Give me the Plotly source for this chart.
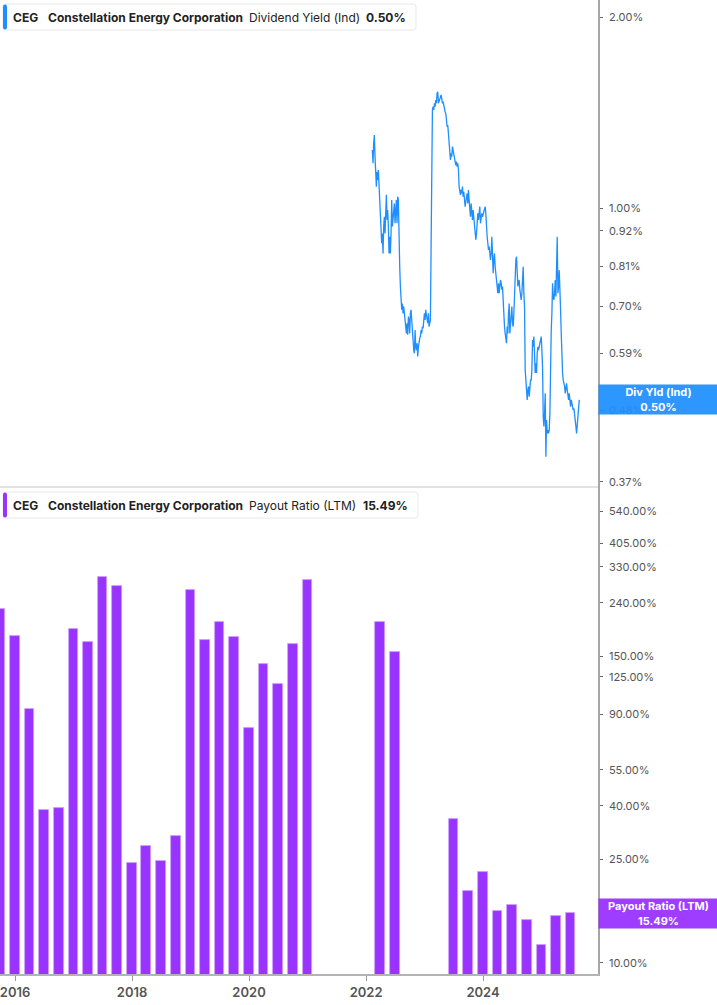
import numpy as np
import pandas as pd
import plotly.graph_objects as go

# dividend yield (Ind), in %: CEG listed early Feb 2022
yield_start = "2022-02-09"
yield_end = "2025-08-24"
yield_pct = [
    1.235, 1.177, 1.265, 1.304, 1.205, 1.121, 1.081, 1.141, 1.107, 1.148, 1.094, 0.999, 0.969, 0.923, 0.880,
    0.912, 0.848, 0.935, 0.969, 0.912, 0.958, 1.049, 0.958, 0.993, 0.935, 0.848, 0.901, 0.848, 0.912, 1.030,
    0.935, 0.969, 0.981, 1.017, 0.946, 1.005, 1.030, 0.946, 1.042, 1.030, 0.859, 0.808, 0.752, 0.699, 0.691,
    0.707, 0.682, 0.699, 0.686, 0.674, 0.650, 0.634, 0.658, 0.631, 0.674, 0.666, 0.634, 0.682, 0.691, 0.666,
    0.634, 0.634, 0.597, 0.590, 0.642, 0.604, 0.597, 0.612, 0.583, 0.604, 0.619, 0.623, 0.627, 0.642, 0.634,
    0.650, 0.646, 0.666, 0.682, 0.666, 0.691, 0.678, 0.670, 0.658, 0.682, 0.650, 0.658, 0.666, 0.869, 1.328,
    1.428, 1.445, 1.428, 1.463, 1.445, 1.481, 1.463, 1.517, 1.526, 1.463, 1.472, 1.481, 1.499, 1.508, 1.490,
    1.463, 1.472, 1.445, 1.428, 1.419, 1.411, 1.377, 1.344, 1.352, 1.312, 1.280, 1.250, 1.191, 1.220, 1.205,
    1.250, 1.235, 1.227, 1.205, 1.184, 1.169, 1.184, 1.162, 1.177, 1.148, 1.081, 1.068, 1.049, 1.068, 1.055,
    1.081, 1.042, 1.061, 1.030, 1.005, 1.024, 1.042, 1.055, 1.017, 1.068, 1.030, 1.005, 0.969, 1.017, 0.981,
    0.958, 0.993, 0.958, 0.923, 0.901, 0.891, 0.912, 0.935, 0.981, 0.958, 0.993, 1.005, 0.946, 0.969, 0.981,
    0.969, 0.981, 0.993, 1.005, 1.005, 0.981, 0.923, 0.901, 0.880, 0.859, 0.869, 0.848, 0.828, 0.848, 0.901,
    0.848, 0.789, 0.828, 0.848, 0.808, 0.779, 0.761, 0.752, 0.734, 0.761, 0.734, 0.752, 0.770, 0.761, 0.743,
    0.752, 0.699, 0.658, 0.650, 0.634, 0.619, 0.612, 0.650, 0.634, 0.682, 0.707, 0.634, 0.650, 0.674, 0.699,
    0.658, 0.650, 0.682, 0.752, 0.808, 0.828, 0.838, 0.798, 0.752, 0.761, 0.770, 0.743, 0.725, 0.716, 0.734,
    0.770, 0.808, 0.734, 0.699, 0.555, 0.535, 0.529, 0.498, 0.516, 0.523, 0.504, 0.529, 0.535, 0.535, 0.555,
    0.619, 0.604, 0.627, 0.590, 0.549, 0.569, 0.549, 0.590, 0.604, 0.597, 0.612, 0.612, 0.619, 0.627, 0.597,
    0.562, 0.469, 0.452, 0.474, 0.510, 0.405, 0.463, 0.441, 0.446, 0.441, 0.446, 0.474, 0.583, 0.642, 0.682,
    0.761, 0.725, 0.716, 0.734, 0.770, 0.725, 0.808, 0.901, 0.734, 0.752, 0.798, 0.699, 0.691, 0.634, 0.576,
    0.549, 0.535, 0.529, 0.523, 0.510, 0.516, 0.529, 0.516, 0.504, 0.498, 0.510, 0.492, 0.486, 0.498, 0.492,
    0.486, 0.480, 0.483, 0.474, 0.469, 0.452, 0.441, 0.457, 0.469, 0.486, 0.498,
]

# payout ratio (LTM), in %, one bar per fiscal quarter end
payout_dates = [
    "2015-09-30", "2015-12-31",
    "2016-03-31", "2016-06-30", "2016-09-30", "2016-12-31",
    "2017-03-31", "2017-06-30", "2017-09-30", "2017-12-31",
    "2018-03-31", "2018-06-30", "2018-09-30", "2018-12-31",
    "2019-03-31", "2019-06-30", "2019-09-30", "2019-12-31",
    "2020-03-31", "2020-06-30", "2020-09-30", "2020-12-31",
    "2022-03-31", "2022-06-30",
    "2023-06-30", "2023-09-30", "2023-12-31",
    "2024-03-31", "2024-06-30", "2024-09-30", "2024-12-31",
    "2025-03-31", "2025-06-30",
]
payout_pct = [
    227, 179,
    94, 38.6, 39.3, 190.6,
    170, 302, 279, 24.2,
    28.1, 24.6, 30.7, 269,
    173, 203, 178, 79.6,
    140, 117, 167, 294,
    203, 156,
    35.6, 18.9, 22.3,
    15.8, 16.7, 14.6, 11.7,
    15.1, 15.49,
]

yield_ticks = [2.00, 1.00, 0.92, 0.81, 0.70, 0.59, 0.48, 0.37]
payout_ticks = [540, 405, 330, 240, 150, 125, 90, 55, 40, 25, 10]
year_ticks = ["2016-01-01", "2018-01-01", "2020-01-01", "2022-01-01", "2024-01-01"]

BLUE = "#1f8fff"
PURPLE = "#9933ff"
TXT = "#222222"
AXIS = "#555555"
FONT = "Inter"

W, H = 717, 1005
PW, PH = 598, 974   # plot area in px (l=0, t=0)


def px(x):
    return x / PW


def py(y):
    return (PH - y) / PH


def rrect(x0, y0, x1, y1, r):
    return (f"M {px(x0 + r)},{py(y0)} L {px(x1 - r)},{py(y0)} "
            f"Q {px(x1)},{py(y0)} {px(x1)},{py(y0 + r)} L {px(x1)},{py(y1 - r)} "
            f"Q {px(x1)},{py(y1)} {px(x1 - r)},{py(y1)} L {px(x0 + r)},{py(y1)} "
            f"Q {px(x0)},{py(y1)} {px(x0)},{py(y1 - r)} L {px(x0)},{py(y0 + r)} "
            f"Q {px(x0)},{py(y0)} {px(x0 + r)},{py(y0)} Z")


yield_dates = pd.date_range(yield_start, yield_end, periods=len(yield_pct))

fig = go.Figure()
fig.add_trace(go.Scatter(
    x=yield_dates, y=yield_pct, mode="lines",
    line=dict(color=BLUE, width=1.3),
    xaxis="x2", yaxis="y2", hoverinfo="skip",
))
fig.add_trace(go.Bar(
    x=pd.to_datetime(payout_dates), y=payout_pct,
    width=61 * 86400000,
    marker=dict(color=PURPLE, line=dict(color="#c9a0ff", width=0.8)),
    xaxis="x", yaxis="y", hoverinfo="skip",
))

xr = ["2015-09-29", "2025-12-19"]
tickfont = dict(family=FONT, size=11, color=AXIS)

fig.update_layout(
    width=W, height=H,
    margin=dict(l=0, r=W - PW, t=0, b=H - PH),
    paper_bgcolor="white", plot_bgcolor="white",
    showlegend=False,
    bargap=0,
    xaxis=dict(
        range=xr, type="date", anchor="y",
        tickvals=year_ticks, tickformat="%Y",
        tickfont=dict(family=FONT, size=13, color=AXIS, weight=600),
        ticklabeloverflow="allow",
        ticks="outside", ticklen=5, tickcolor="#999999", tickwidth=1,
        showline=True, linecolor="#b3b3b3", linewidth=2,
        showgrid=False, zeroline=False,
    ),
    xaxis2=dict(
        range=xr, type="date", anchor="y2", matches="x",
        showticklabels=False, showgrid=False, zeroline=False, showline=False,
    ),
    yaxis=dict(
        domain=[0, 0.5], type="log", side="right", anchor="x",
        range=[0.9578, 2.8245],
        tickvals=payout_ticks, ticktext=[f"{v:.2f}%" for v in payout_ticks],
        tickfont=tickfont, ticks="outside", ticklen=3, tickcolor="#666666",
        ticklabelstandoff=4,
        showline=True, linecolor="#a6a6a6", linewidth=1.5,
        showgrid=False, zeroline=False,
    ),
    yaxis2=dict(
        domain=[0.5, 1], type="log", side="right", anchor="x2",
        range=[-0.4402, 0.3283],
        tickvals=yield_ticks, ticktext=[f"{v:.2f}%" for v in yield_ticks],
        tickfont=tickfont, ticks="outside", ticklen=3, tickcolor="#666666",
        ticklabelstandoff=4,
        showline=True, linecolor="#a6a6a6", linewidth=1.5,
        showgrid=False, zeroline=False,
    ),
)

shapes = [
    dict(type="line", xref="paper", yref="paper", x0=0, x1=1, y0=py(487), y1=py(487),
         line=dict(color="#e2e2e2", width=2)),
    dict(type="path", xref="paper", yref="paper", path=rrect(3, 4, 416, 30, 3),
         fillcolor="white", line=dict(color="#e8e8e8", width=1)),
    dict(type="path", xref="paper", yref="paper", path=rrect(3, 4.5, 7, 29.5, 2),
         fillcolor=BLUE, line=dict(width=0)),
    dict(type="path", xref="paper", yref="paper", path=rrect(3, 492, 418, 518, 3),
         fillcolor="white", line=dict(color="#e8e8e8", width=1)),
    dict(type="path", xref="paper", yref="paper", path=rrect(3, 492.5, 7, 517.5, 2),
         fillcolor=PURPLE, line=dict(width=0)),
]
fig.update_layout(shapes=shapes)


def label(x, y, text):
    fig.add_annotation(xref="paper", yref="paper", x=px(x), y=py(y), text=text,
                       showarrow=False, xanchor="left", yanchor="middle",
                       font=dict(family=FONT, size=12, color=TXT))


label(11, 17, "<b>CEG</b>")
label(46, 17, "<b>Constellation Energy Corporation</b>")
label(247, 17, "Dividend Yield (Ind)")
label(364, 17, f"<b>{yield_pct[-1]:.2f}%</b>")

label(11, 505, "<b>CEG</b>")
label(46, 505, "<b>Constellation Energy Corporation</b>")
label(247, 505, "Payout Ratio (LTM)")
label(361, 505, f"<b>{payout_pct[-1]:.2f}%</b>")

# last-value flags on the right axis
fig.add_annotation(xref="paper", yref="y2", x=1, y=np.log10(yield_pct[-1]),
                   text=f"<b>Div Yld (Ind)</b><br><b>{yield_pct[-1]:.2f}%</b>",
                   showarrow=False, xanchor="left", yanchor="middle",
                   width=117, height=27, borderpad=1, align="center",
                   bgcolor=BLUE, opacity=0.93,
                   font=dict(family=FONT, size=11, color="white"))
fig.add_annotation(xref="paper", yref="y", x=1, y=np.log10(payout_pct[-1]),
                   text=f"<b>Payout Ratio (LTM)</b><br><b>{payout_pct[-1]:.2f}%</b>",
                   showarrow=False, xanchor="left", yanchor="middle",
                   width=117, height=27, borderpad=1, align="center",
                   bgcolor=PURPLE, opacity=0.95,
                   font=dict(family=FONT, size=11, color="white"))

fig.write_html("out.html", config={"displayModeBar": False},
               post_script="document.body.style.margin='0';document.body.style.overflow='hidden';")
